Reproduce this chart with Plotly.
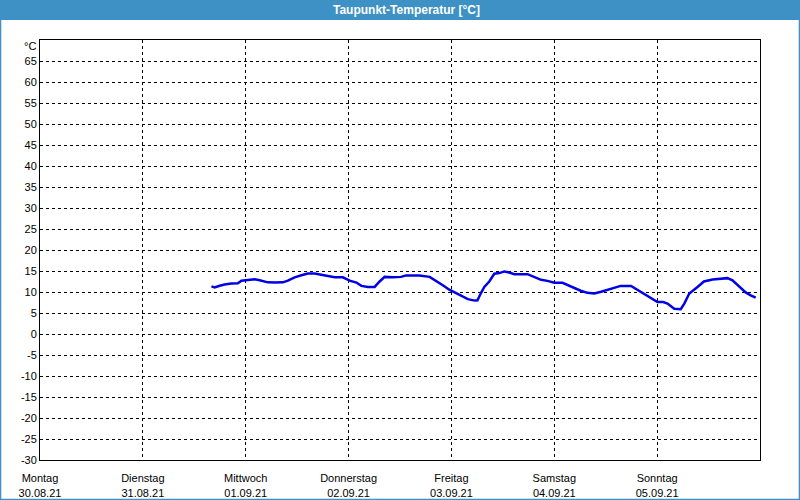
import plotly.graph_objects as go

times = [
    "2021-08-31 16:00", "2021-08-31 16:45", "2021-08-31 17:55", "2021-08-31 19:05",
    "2021-08-31 20:40", "2021-08-31 22:10", "2021-08-31 23:00", "2021-09-01 00:10",
    "2021-09-01 02:05", "2021-09-01 03:15", "2021-09-01 05:10", "2021-09-01 06:45",
    "2021-09-01 08:40", "2021-09-01 09:50", "2021-09-01 11:25", "2021-09-01 13:00",
    "2021-09-01 14:30", "2021-09-01 16:05", "2021-09-01 17:15", "2021-09-01 19:10",
    "2021-09-01 20:45", "2021-09-01 22:40", "2021-09-01 23:05", "2021-09-02 00:15",
    "2021-09-02 01:50", "2021-09-02 03:00", "2021-09-02 04:30", "2021-09-02 06:05",
    "2021-09-02 07:15", "2021-09-02 08:25", "2021-09-02 10:20", "2021-09-02 12:15",
    "2021-09-02 13:25", "2021-09-02 16:30", "2021-09-02 18:55", "2021-09-02 20:25",
    "2021-09-02 22:00", "2021-09-02 23:30", "2021-09-03 01:05", "2021-09-03 02:35",
    "2021-09-03 03:50", "2021-09-03 05:25", "2021-09-03 06:05", "2021-09-03 06:55",
    "2021-09-03 07:40", "2021-09-03 08:50", "2021-09-03 10:00", "2021-09-03 11:10",
    "2021-09-03 12:20", "2021-09-03 13:30", "2021-09-03 14:40", "2021-09-03 17:45",
    "2021-09-03 18:55", "2021-09-03 20:55", "2021-09-03 22:25", "2021-09-04 00:00",
    "2021-09-04 01:55", "2021-09-04 03:05", "2021-09-04 04:40", "2021-09-04 06:10",
    "2021-09-04 07:45", "2021-09-04 09:20", "2021-09-04 10:55", "2021-09-04 12:25",
    "2021-09-04 14:00", "2021-09-04 15:30", "2021-09-04 17:55", "2021-09-04 19:25",
    "2021-09-04 21:00", "2021-09-04 22:30", "2021-09-05 00:05", "2021-09-05 01:25",
    "2021-09-05 02:25", "2021-09-05 04:00", "2021-09-05 05:30", "2021-09-05 06:20",
    "2021-09-05 07:30", "2021-09-05 09:25", "2021-09-05 10:55", "2021-09-05 12:55",
    "2021-09-05 14:25", "2021-09-05 16:25", "2021-09-05 17:35", "2021-09-05 19:05",
    "2021-09-05 20:40", "2021-09-05 21:50", "2021-09-05 23:00",
]
dewpoint = [
    11.35, 11.1, 11.5, 11.8,
    12.0, 12.1, 12.7, 12.8,
    13.05, 12.8, 12.3, 12.25,
    12.3, 12.7, 13.5, 14.0,
    14.4, 14.4, 14.2, 13.8,
    13.5, 13.5, 13.3, 12.7,
    12.25, 11.45, 11.2, 11.2,
    12.5, 13.6, 13.5, 13.6,
    13.95, 13.95, 13.6, 12.7,
    11.6, 10.55, 9.75, 8.95,
    8.3, 7.95, 8.0, 9.8,
    11.2, 12.5, 14.35, 14.5,
    14.9, 14.65, 14.25, 14.25,
    13.7, 12.9, 12.65, 12.2,
    12.2, 11.7, 10.9, 10.3,
    9.8, 9.65, 10.05, 10.55,
    11.0, 11.45, 11.45, 10.5,
    9.5, 8.45, 7.6, 7.6,
    7.25, 6.0, 5.9, 7.25,
    9.65, 11.2, 12.5, 12.95,
    13.05, 13.3, 12.8, 11.5,
    9.9, 9.2, 8.65,
]

day_ticks = ["2021-08-30", "2021-08-31", "2021-09-01", "2021-09-02",
             "2021-09-03", "2021-09-04", "2021-09-05"]
day_names = ["Montag", "Dienstag", "Mittwoch", "Donnerstag", "Freitag", "Samstag", "Sonntag"]
day_dates = ["30.08.21", "31.08.21", "01.09.21", "02.09.21", "03.09.21", "04.09.21", "05.09.21"]
y_ticks = list(range(-30, 70, 5))

title_text = "Taupunkt-Temperatur [°C]"
unit_text = "°C"

FONT = "Liberation Sans"
W, H = 800, 500
L, R, T, B = 40, 40, 40, 40
pw, ph = W - L - R, H - T - B


def px_x(x):
    return (x - L) / pw


def px_y(y):
    return (H - B - y) / ph


fig = go.Figure()
fig.add_trace(go.Scatter(
    x=times, y=dewpoint, mode="lines",
    line=dict(color="#0000e6", width=2.5),
    hoverinfo="skip", showlegend=False,
))

fig.update_layout(
    width=W, height=H,
    margin=dict(l=L, r=R, t=T, b=B, autoexpand=False),
    paper_bgcolor="white",
    plot_bgcolor="white",
    font=dict(family=FONT, size=11, color="black"),
    showlegend=False,
    xaxis=dict(
        type="date",
        range=["2021-08-30 00:00", "2021-09-06 00:00"],
        tickvals=day_ticks,
        ticktext=[f"{n}<br>{d}" for n, d in zip(day_names, day_dates)],
        showgrid=True, gridcolor="black", griddash="3px,3px", gridwidth=1,
        showline=True, linecolor="black", linewidth=1, mirror=True,
        ticks="", zeroline=False, automargin=False,
        ticklabelstandoff=8,
        tickfont=dict(family=FONT, size=11, color="black"),
    ),
    yaxis=dict(
        range=[-30, 70],
        tickvals=y_ticks,
        ticktext=[str(v) for v in y_ticks],
        showgrid=True, gridcolor="black", griddash="3px,3px", gridwidth=1,
        showline=True, linecolor="black", linewidth=1, mirror=True,
        ticks="", zeroline=False, automargin=False,
        tickfont=dict(family=FONT, size=11, color="black"),
    ),
    shapes=[
        dict(type="rect", xref="paper", yref="paper",
             x0=px_x(0), x1=px_x(W), y0=px_y(20), y1=px_y(0),
             fillcolor="#3d91c4", line=dict(width=0), layer="above"),
        dict(type="rect", xref="paper", yref="paper",
             x0=px_x(0.5), x1=px_x(W - 0.5), y0=px_y(H - 0.5), y1=px_y(19),
             fillcolor="rgba(0,0,0,0)", line=dict(color="#3d91c4", width=1.5), layer="above"),
    ],
    annotations=[
        dict(text=f"<b>{title_text}</b>", xref="paper", yref="paper",
             x=px_x(406), y=px_y(10), xanchor="center", yanchor="middle",
             showarrow=False, font=dict(family=FONT, size=12, color="white")),
        dict(text=unit_text, xref="paper", yref="paper",
             x=px_x(38), y=px_y(46), xanchor="right", yanchor="middle",
             showarrow=False, font=dict(family=FONT, size=11, color="black")),
    ],
)

fig.write_html("out.html")
